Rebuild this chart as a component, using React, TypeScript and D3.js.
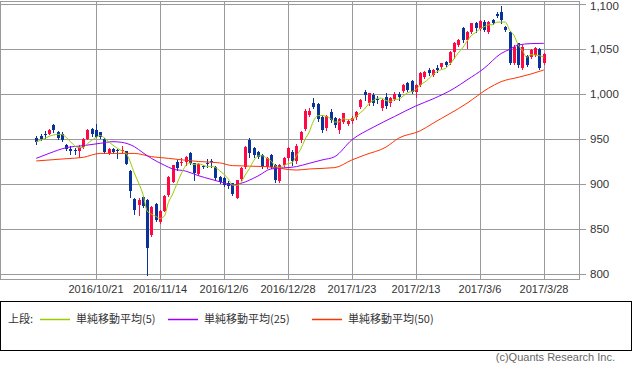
import { scaleLinear, line, curveMonotoneX, format } from "d3";

// daily candles, 2016/9/30 .. 2017/3/28
const opens = [
  951, 953, 956, 956, 965, 957.5, 956, 943, 939, 937.5,
  936.5, 941, 950, 961, 960, 957.4, 949.6, 934, 938.9, 937.7,
  936.3, 936.6, 914.8, 883.7, 876.3, 885.9, 881.8, 843.3, 878.1, 857.7,
  870.3, 887.7, 902.6, 924.8, 922.9, 924.8, 934, 923, 911.1, 919.5,
  923, 926, 919, 907.4, 906.3, 901.5, 900.7, 885, 906, 919,
  949, 939.6, 935.9, 932.2, 919.2, 932.2, 921, 903.3, 921.1, 928.5,
  936, 925, 949, 961, 976.3, 989.7, 988.9, 974.9, 961.9, 980.4,
  973, 960, 969.3, 966.7, 970, 974.1, 986, 1002.6, 989.7, 998.9,
  994.5, 984.1, 997, 990, 994, 1000.5, 1003.7, 1011.8, 1014.4, 1002.6,
  1010, 1019.2, 1026.6, 1021.1, 1028.5, 1030, 1035.9, 1034, 1047, 1054.4,
  1073, 1060, 1069.2, 1078.5, 1072.2, 1080.4, 1069.2, 1082.2, 1088.9, 1091.4,
  1074.8, 1069.2, 1034.8, 1056.3, 1028.5, 1042.2, 1041.5, 1043.3, 1049.6, 1034,
];
const highs = [
  953, 956, 958.5, 961.5, 966.5, 958.5, 957.5, 944.5, 942, 940,
  943, 951, 960.7, 962, 966.5, 958.1, 950.7, 940.3, 940.3, 938.5,
  942.6, 937, 915.5, 884.8, 884.1, 886.6, 882.9, 875.5, 879.2, 871.1,
  887.7, 908.9, 921.4, 926.6, 928.5, 931.1, 935.2, 923.7, 923, 921,
  928.1, 927.5, 920.3, 909, 907.5, 903, 901.5, 905, 919, 942,
  951.5, 941, 937, 933, 929.5, 933, 922, 922, 929.5, 941,
  937.5, 944, 959, 983, 984, 995.3, 990, 976.7, 976.7, 983,
  974, 973.6, 979.3, 972, 975, 981.5, 994, 1004.5, 1001.5, 1001.5,
  998, 994.5, 1000.7, 997, 1002, 1002.5, 1011, 1013, 1016, 1011,
  1024, 1026, 1028.5, 1027.5, 1032, 1035, 1037, 1048, 1058, 1061,
  1075, 1070, 1079, 1080.5, 1082, 1082, 1081, 1083.5, 1091, 1097.7,
  1076, 1070, 1054, 1057, 1054, 1043, 1050, 1052, 1051, 1046,
];
const lows = [
  945, 949, 951, 955, 958, 950, 947.5, 937.5, 933, 933.5,
  929.5, 940, 949.5, 953.7, 951.8, 950.7, 934, 933.3, 934, 928.5,
  934, 922.2, 885.9, 866.3, 865.5, 874.8, 799, 842.2, 859.2, 857,
  870, 887, 901.8, 915.5, 921.1, 921.1, 922.2, 904.4, 910.4, 917.4,
  919.2, 919, 904.4, 901.5, 897.5, 896, 887.5, 884, 905, 918,
  930, 930.3, 929, 918, 918, 918, 902.5, 902, 920, 927,
  921, 923, 947, 960, 975, 985, 969.5, 958, 960, 969,
  963, 956.3, 968.2, 965, 968, 972.5, 985, 993.4, 988, 987.8,
  990, 982.2, 985, 987, 993, 993.3, 1002, 1003, 1001.5, 997,
  1009, 1018, 1021, 1020, 1025, 1029, 1031, 1033, 1040, 1053,
  1058, 1050.7, 1068, 1069.2, 1071, 1070, 1068, 1078, 1085.5, 1078.5,
  1069.5, 1033, 1033, 1030.3, 1028, 1031, 1040, 1042, 1028, 1033,
];
const closes = [
  947, 950, 955, 960, 960, 951, 949, 939, 936.5, 936.5,
  941, 950, 960, 955, 952.6, 951.8, 935.5, 939.2, 935.9, 936.6,
  937.7, 922.6, 892.6, 871.1, 882.2, 875.5, 829.2, 874, 860, 870.3,
  886.6, 907.4, 920.7, 917.4, 924.8, 930.3, 923.7, 911.8, 921.8, 918.5,
  922, 924, 906.3, 902.6, 899, 897.8, 888.5, 904.4, 918, 941.4,
  934, 932.2, 930.3, 919.2, 928.5, 919.2, 904.4, 921, 928.5, 939.6,
  925, 942.3, 958.2, 981.5, 981.5, 986, 971.9, 960.1, 975.6, 971.2,
  965.6, 971.9, 978.6, 970.4, 973.5, 980.4, 993.4, 998.9, 1000.8, 989.7,
  994, 993.3, 986.6, 995, 1000, 996.5, 1010, 1004.4, 1002.6, 1010,
  1022.9, 1024.8, 1023.7, 1026.6, 1026.6, 1034, 1032.2, 1047, 1057, 1060,
  1060, 1069.2, 1078.5, 1073, 1081.4, 1071.1, 1080.4, 1079.2, 1086.6, 1082.2,
  1071.1, 1034.8, 1052.5, 1032.2, 1052.5, 1032.2, 1048.9, 1050.7, 1028.5, 1045,
];

// 25 / 50 day averages (candle index, value)
const ma25Idx = [0, 3, 7, 11, 15, 18, 20, 23, 25, 27, 30, 32, 35, 38, 41, 43, 46, 48, 52, 55, 61, 64, 67, 70, 74, 79, 84, 89, 93, 98, 101, 105, 109, 111, 113, 116, 119];
const ma25Val = [928.5, 934, 940.3, 942.6, 945.2, 947, 946.3, 941.5, 934.8, 928.5, 921, 916.7, 914.4, 909.3, 905.2, 902.6, 898.9, 900.7, 908.9, 916.7, 919.3, 923, 926.7, 930.4, 949, 963, 975, 986.7, 994.5, 1006.3, 1015.6, 1028.5, 1045, 1049.6, 1054.4, 1056, 1056.3];
const ma50Idx = [0, 7, 11, 15, 23, 27, 31, 38, 43, 46, 54, 61, 64, 70, 74, 77, 82, 85, 90, 93, 101, 106, 109, 113, 116, 119];
const ma50Val = [925.6, 928.1, 929.6, 934, 934, 930.4, 928.5, 925, 923.5, 920.4, 919.3, 915.5, 916.7, 918.2, 926.7, 932.2, 941, 951, 959, 967.4, 989.7, 1006.3, 1013.7, 1018.5, 1022.2, 1026.7];

const tickIdx = [14, 29, 44, 59, 74, 89, 104, 119];
const tickLabels = ["2016/10/21", "2016/11/14", "2016/12/6", "2016/12/28", "2017/1/23", "2017/2/13", "2017/3/6", "2017/3/28"];
const yTicks = [800, 850, 900, 950, 1000, 1050, 1100];

const legendLabels = ["単純移動平均(5)", "単純移動平均(25)", "単純移動平均(50)"];
const legendColors = ["#99cc00", "#9900ff", "#ff3300"];

const UP = "#ff0844";
const DOWN = "#0a3399";
const GRID = "#9a9a9a";
const FONT = "'Liberation Sans', Arial, sans-serif";
const JFONT = "'Noto Sans CJK JP', sans-serif";

export default function App() {
  const x = scaleLinear().domain([-8.5, 127.5]).range([0, 580]);
  const y = scaleLinear().domain([800, 1100]).range([274, 4]);
  const px = (i: number) => Math.round(x(i));
  const py = (v: number) => Math.round(y(v));

  // simple 5-day average of closes
  const ma5 = closes.map((_, i) => {
    const w = closes.slice(Math.max(0, i - 4), i + 1);
    return w.reduce((a, b) => a + b, 0) / w.length;
  });

  const lineGen = line<[number, number]>()
    .x((d) => x(d[0]))
    .y((d) => y(d[1]))
    .curve(curveMonotoneX);

  const ma5Path = lineGen(ma5.map((v, i) => [i, v] as [number, number])) ?? "";
  const ma25Path = lineGen(ma25Idx.map((i, k) => [i, ma25Val[k]] as [number, number])) ?? "";
  const ma50Path = lineGen(ma50Idx.map((i, k) => [i, ma50Val[k]] as [number, number])) ?? "";

  const fmt = format(",");

  return (
    <div style={{ position: "absolute", left: 0, top: 0 }}>
      <svg width={633} height={369} style={{ display: "block", background: "#fff" }}>
        {/* grid */}
        {yTicks.map((t) => (
          <line key={"gy" + t} x1={0} x2={586} y1={py(t) + 0.5} y2={py(t) + 0.5} stroke={GRID} />
        ))}
        {tickIdx.map((i) => (
          <line key={"gx" + i} x1={px(i) + 0.5} x2={px(i) + 0.5} y1={1} y2={280} stroke={GRID} />
        ))}
        <rect x={0.5} y={1.5} width={579} height={278} fill="none" stroke={GRID} />

        {/* candles */}
        {opens.map((o, i) => {
          const c = closes[i];
          const up = c >= o;
          const col = up ? UP : DOWN;
          const cx = px(i);
          const top = py(Math.max(o, c));
          const bot = py(Math.min(o, c));
          return (
            <g key={"c" + i}>
              <line
                x1={cx + 0.5}
                x2={cx + 0.5}
                y1={py(Math.max(highs[i], o, c))}
                y2={py(Math.min(lows[i], o, c)) + 1}
                stroke={col}
              />
              <rect x={cx - 1} y={top} width={3} height={Math.max(1, bot - top)} fill={col} />
            </g>
          );
        })}

        {/* moving averages */}
        <path d={ma50Path} fill="none" stroke="#ff3300" strokeWidth={1} />
        <path d={ma25Path} fill="none" stroke="#9900ff" strokeWidth={1} />
        <path d={ma5Path} fill="none" stroke="#99cc00" strokeWidth={1} />

        {/* y labels */}
        {yTicks.map((t) => (
          <text key={"yl" + t} x={590} y={Math.max(py(t) + 4, 10)} fontSize={11.5} fontFamily={FONT} fill="#333">
            {fmt(t)}
          </text>
        ))}

        {/* x labels */}
        {tickIdx.map((i, k) => (
          <text key={"xl" + i} x={px(i)} y={293} textAnchor="middle" fontSize={11} fontFamily={FONT} fill="#333">
            {tickLabels[k]}
          </text>
        ))}

        {/* legend */}
        <rect x={0.5} y={301.5} width={631} height={49} fill="#fff" stroke="#000" />
        <text x={8} y={323} fontSize={11} fontFamily={JFONT} fill="#333">上段:</text>
        {legendLabels.map((lab, k) => {
          const lx = [40, 168, 312][k];
          return (
            <g key={"lg" + k}>
              <line x1={lx} x2={lx + 30} y1={319.5} y2={319.5} stroke={legendColors[k]} strokeWidth={1.5} />
              <text x={lx + 36} y={323} fontSize={11} fontFamily={JFONT} fill="#333">
                {lab}
              </text>
            </g>
          );
        })}

        <text x={615} y={361} textAnchor="end" fontSize={11} fontFamily={FONT} fill="#666">
          (c)Quants Research Inc.
        </text>
      </svg>
    </div>
  );
}
